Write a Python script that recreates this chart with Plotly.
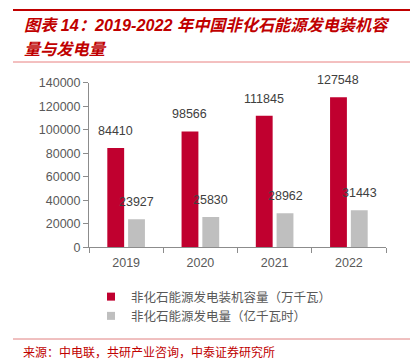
import plotly.graph_objects as go

years = ["2019", "2020", "2021", "2022"]
capacity = [84410, 98566, 111845, 127548]
generation = [23927, 25830, 28962, 31443]
series_names = ["非化石能源发电装机容量（万千瓦）", "非化石能源发电量（亿千瓦时）"]
y_ticks = [0, 20000, 40000, 60000, 80000, 100000, 120000, 140000]

# page body has an 8px margin: size the figure to fit the window and map target pixels accordingly
OFF = 8
W, H = 418 - OFF, 360 - OFF
RED = "#C0002F"
GRAY = "#BFBFBF"
TXT = "#595959"
CJK = "Noto Sans CJK SC"
NUM = "Arial, Liberation Sans, " + CJK

def px(x):
    return (x - OFF) / W

def py(y):
    return 1 - (y - OFF) / H

fig = go.Figure()
fig.add_trace(go.Bar(x=years, y=capacity, marker=dict(color=RED, line=dict(width=0)),
                     name=series_names[0], showlegend=False))
fig.add_trace(go.Bar(x=years, y=generation, marker=dict(color=GRAY, line=dict(width=0)),
                     name=series_names[1], showlegend=False))
# legend entries with small square markers
for nm, col in zip(series_names, [RED, GRAY]):
    fig.add_trace(go.Scatter(x=[years[0]], y=[None], mode="markers", name=nm,
                             marker=dict(symbol="square", size=8, color=col)))

annotations = []
for i, v in enumerate(capacity):
    annotations.append(dict(x=i, y=v, xref="x", yref="y", text=f"{v}", showarrow=False,
                            xshift=-10.5, yshift=17, font=dict(family=NUM, size=12.5, color="#404040")))
for i, v in enumerate(generation):
    annotations.append(dict(x=i, y=v, xref="x", yref="y", text=f"{v}", showarrow=False,
                            xshift=10.5, yshift=17, font=dict(family=NUM, size=12.5, color="#404040")))

# title
annotations.append(dict(x=px(22), y=py(25), xref="paper", yref="paper", xanchor="left", yanchor="middle",
                        text="<b><i>图表 14：2019-2022 年中国非化石能源发电装机容</i></b>", showarrow=False,
                        font=dict(family=NUM, size=16.2, color="#C00000")))
annotations.append(dict(x=px(22), y=py(49), xref="paper", yref="paper", xanchor="left", yanchor="middle",
                        text="<b><i>量与发电量</i></b>", showarrow=False,
                        font=dict(family=NUM, size=16.2, color="#C00000")))
# source
annotations.append(dict(x=px(21), y=py(351), xref="paper", yref="paper", xanchor="left", yanchor="middle",
                        text="来源：中电联，共研产业咨询，中泰证券研究所", showarrow=False,
                        font=dict(family=CJK, size=12, color="#C00000")))

shapes = [
    dict(type="line", xref="paper", yref="paper", x0=px(13), x1=1, y0=py(10), y1=py(10),
         line=dict(color="#C00000", width=2)),
    dict(type="line", xref="paper", yref="paper", x0=px(13), x1=1, y0=py(62), y1=py(62),
         line=dict(color="#E88080", width=1)),
    dict(type="line", xref="paper", yref="paper", x0=px(13), x1=1, y0=py(339), y1=py(339),
         line=dict(color="#E08080", width=1)),
]

fig.update_layout(
    width=W, height=H,
    margin=dict(l=0, r=0, t=0, b=0, pad=0, autoexpand=False),
    paper_bgcolor="white", plot_bgcolor="white",
    barmode="group", bargap=0.44, bargroupgap=0.19,
    showlegend=True,
    legend=dict(x=px(91), y=py(282), xanchor="left", yanchor="top",
                font=dict(family=CJK, size=12.5, color=TXT), itemwidth=30,
                bgcolor="rgba(0,0,0,0)", tracegroupgap=0),
    annotations=annotations,
    shapes=shapes,
    xaxis=dict(domain=[px(89), px(386)], type="category", categoryorder="array", categoryarray=years,
               range=[-0.5, 3.5], showgrid=False, automargin=False, tickangle=0,
               showline=True, linecolor="#8C8C8C", linewidth=1, ticklabelstandoff=4,
               ticks="outside", tickson="boundaries", ticklen=5, tickcolor="#8C8C8C",
               tickfont=dict(family=NUM, size=12.5, color=TXT)),
    yaxis=dict(domain=[py(247.3), py(82.7)], range=[0, 140000], tickvals=y_ticks, automargin=False,
               showgrid=False, zeroline=False, showline=True, linecolor="#8C8C8C", linewidth=1,
               ticks="outside", ticklen=5, tickcolor="#8C8C8C", tickformat="d",
               tickfont=dict(family=NUM, size=12.5, color=TXT)),
)

fig.write_html("out.html")
